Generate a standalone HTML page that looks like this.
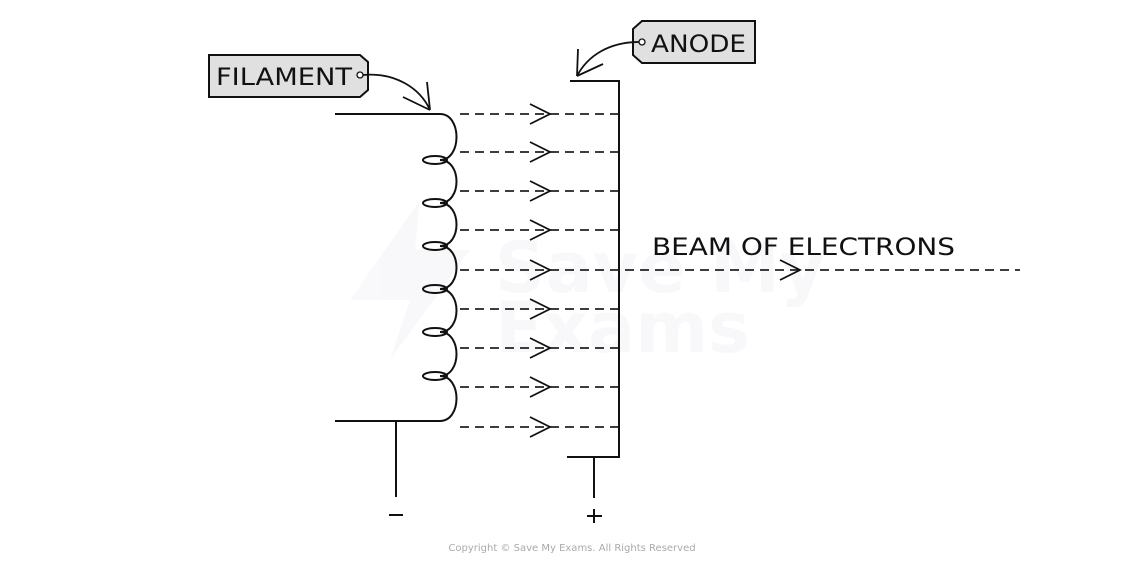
<!DOCTYPE html>
<html><head><meta charset="utf-8"><style>
html,body{margin:0;padding:0;background:#fff;}
svg{display:block;}
text{font-family:"DejaVu Sans","Liberation Sans",sans-serif;}
</style></head><body>
<svg width="1144" height="563" viewBox="0 0 1144 563" xmlns="http://www.w3.org/2000/svg">
<g opacity="0.04" fill="#6070a0">
<polygon points="420,200 350,300 410,300 390,360 470,250 415,250"/>
<text x="495" y="292" font-size="70" font-weight="bold">Save My</text>
<text x="495" y="352" font-size="70" font-weight="bold">Exams</text>
</g>
<g fill="none" stroke="#111" stroke-width="2">
<path d="M335,114 L440,114 C462,114 462,160 440,160
C462,160 462,203 440,203 C462,203 462,246 440,246 C462,246 462,289 440,289
C462,289 462,332 440,332 C462,332 462,376 440,376 C462,376 462,421 440,421 L335,421"/>
<ellipse cx="435" cy="160" rx="12" ry="4"/>
<ellipse cx="435" cy="203" rx="12" ry="4"/>
<ellipse cx="435" cy="246" rx="12" ry="4"/>
<ellipse cx="435" cy="289" rx="12" ry="4"/>
<ellipse cx="435" cy="332" rx="12" ry="4"/>
<ellipse cx="435" cy="376" rx="12" ry="4"/>
<line x1="396" y1="421" x2="396" y2="497"/>
<polyline points="570,81 619,81 619,457 567,457"/>
<line x1="594" y1="457" x2="594" y2="498"/>
<line x1="389" y1="515" x2="403" y2="515"/>
<line x1="587" y1="516" x2="602" y2="516"/>
<line x1="594" y1="509" x2="594" y2="523"/>
</g>
<g fill="none" stroke="#222" stroke-width="1.8" stroke-dasharray="9,6">
<line x1="460" y1="114" x2="618" y2="114"/>
<line x1="460" y1="152" x2="618" y2="152"/>
<line x1="460" y1="191" x2="618" y2="191"/>
<line x1="460" y1="230" x2="618" y2="230"/>
<line x1="460" y1="270" x2="1020" y2="270"/>
<line x1="460" y1="309" x2="618" y2="309"/>
<line x1="460" y1="348" x2="618" y2="348"/>
<line x1="460" y1="387" x2="618" y2="387"/>
<line x1="460" y1="427" x2="618" y2="427"/>
</g>
<g fill="none" stroke="#111" stroke-width="1.8">
<polyline points="530,104 550,114 530,124"/>
<polyline points="530,142 550,152 530,162"/>
<polyline points="530,181 550,191 530,201"/>
<polyline points="530,220 550,230 530,240"/>
<polyline points="530,260 550,270 530,280"/>
<polyline points="530,299 550,309 530,319"/>
<polyline points="530,338 550,348 530,358"/>
<polyline points="530,377 550,387 530,397"/>
<polyline points="530,417 550,427 530,437"/>
<polyline points="780,260 800,270 780,280"/>
</g>
<g stroke="#111" stroke-width="2">
<path d="M209,55 L360,55 L368,62 L368,90 L360,97 L209,97 Z" fill="#e0e0e0"/>
<path d="M642,21 L755,21 L755,63 L642,63 L633,55 L633,29 Z" fill="#e0e0e0"/>
</g>
<g fill="#fff" stroke="#111" stroke-width="1.3">
<circle cx="360" cy="75" r="3"/>
<circle cx="642" cy="42" r="3"/>
</g>
<g fill="none" stroke="#111" stroke-width="1.8">
<path d="M363,75 C395,72 420,88 430,110"/>
<line x1="427" y1="82" x2="430" y2="110"/>
<line x1="403" y1="97" x2="430" y2="110"/>
<path d="M639,42 C610,42 588,55 577,76"/>
<line x1="578" y1="49" x2="577" y2="76"/>
<line x1="603" y1="64" x2="577" y2="76"/>
</g>
<g fill="#111">
<text x="216" y="85" font-size="24" textLength="136" lengthAdjust="spacingAndGlyphs">FILAMENT</text>
<text x="651" y="52" font-size="24" textLength="95" lengthAdjust="spacingAndGlyphs">ANODE</text>
<text x="652" y="255" font-size="24" textLength="303" lengthAdjust="spacingAndGlyphs">BEAM OF ELECTRONS</text>
</g>
<text x="572" y="551" font-size="10" fill="#aaa" text-anchor="middle" font-family="Liberation Sans,sans-serif">Copyright © Save My Exams. All Rights Reserved</text>
</svg>
</body></html>
